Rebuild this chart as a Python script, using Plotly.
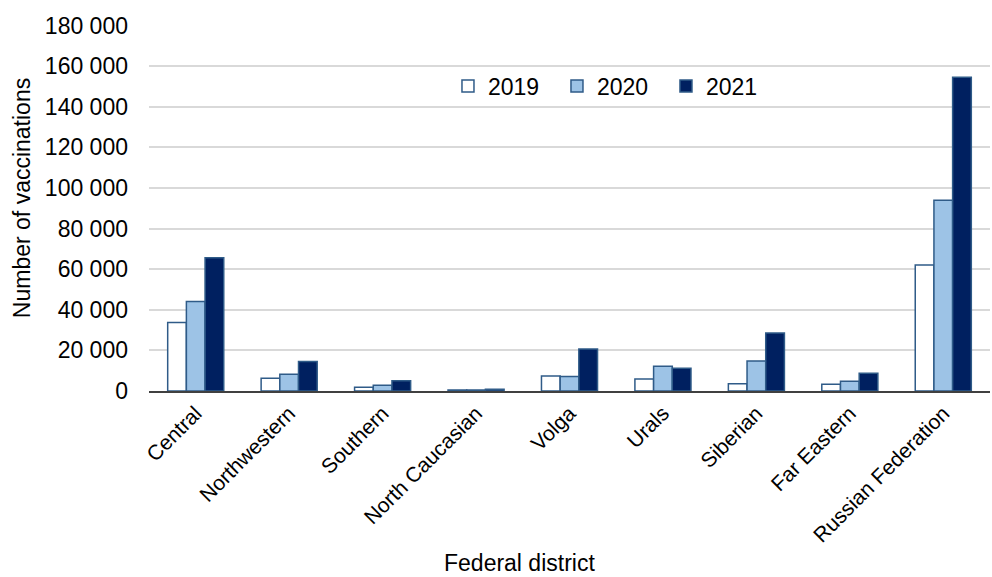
import plotly.graph_objects as go

districts = ["Central", "Northwestern", "Southern", "North Caucasian", "Volga",
             "Urals", "Siberian", "Far Eastern", "Russian Federation"]
v2019 = [33700, 6300, 1800, 500, 7400, 5900, 3600, 3300, 62100]
v2020 = [44100, 8200, 2800, 500, 7100, 12200, 14800, 4800, 94000]
v2021 = [65700, 14500, 5000, 900, 20700, 11200, 28600, 8700, 154600]
years = ["2019", "2020", "2021"]
y_ticks = [0, 20000, 40000, 60000, 80000, 100000, 120000, 140000, 160000, 180000]

FONT = "Liberation Sans, Arial, sans-serif"
outline = "#2F5B88"
fills = ["#FFFFFF", "#9DC3E6", "#002060"]

fig = go.Figure()
for name, vals, col in zip(years, [v2019, v2020, v2021], fills):
    fig.add_trace(go.Bar(
        x=districts, y=vals, name=name,
        marker=dict(color=col, line=dict(color=outline, width=1.5)),
    ))

fig.update_layout(
    width=992, height=577,
    margin=dict(l=149, r=2, t=25, b=186),
    paper_bgcolor="white", plot_bgcolor="white",
    barmode="group", bargap=0.4, bargroupgap=0,
    separators=". ",
    font=dict(family=FONT, size=23, color="#000000"),
    showlegend=True,
    legend=dict(orientation="h", x=0.3555, y=0.833, xanchor="left", yanchor="middle",
                font=dict(size=23), bgcolor="rgba(0,0,0,0)",
                entrywidth=64, entrywidthmode="pixels", itemwidth=30),
    xaxis=dict(
        tickangle=-45, tickfont=dict(size=21),
        showline=True, linecolor="#404040", linewidth=1.5,
        showgrid=False, ticks="",
    ),
    yaxis=dict(
        range=[0, 180300], tickvals=y_ticks, tickformat=",.0f",
        showgrid=True, gridcolor="#D9D9D9", gridwidth=2,
        zeroline=False, showline=False, ticks="",
        tickfont=dict(size=23), ticklabelstandoff=20,
    ),
    annotations=[
        dict(text="Federal district", xref="paper", yref="paper", x=0.441, y=-0.47,
             xanchor="center", yanchor="middle", showarrow=False, font=dict(size=23)),
        dict(text="Number of vaccinations", xref="paper", yref="paper", x=-0.151, y=0.527,
             xanchor="center", yanchor="middle", textangle=-90, showarrow=False,
             font=dict(size=23)),
    ],
)

fig.write_html("out.html", config={"displayModeBar": False},
               post_script="document.body.style.margin='0';document.body.style.overflow='hidden';")
